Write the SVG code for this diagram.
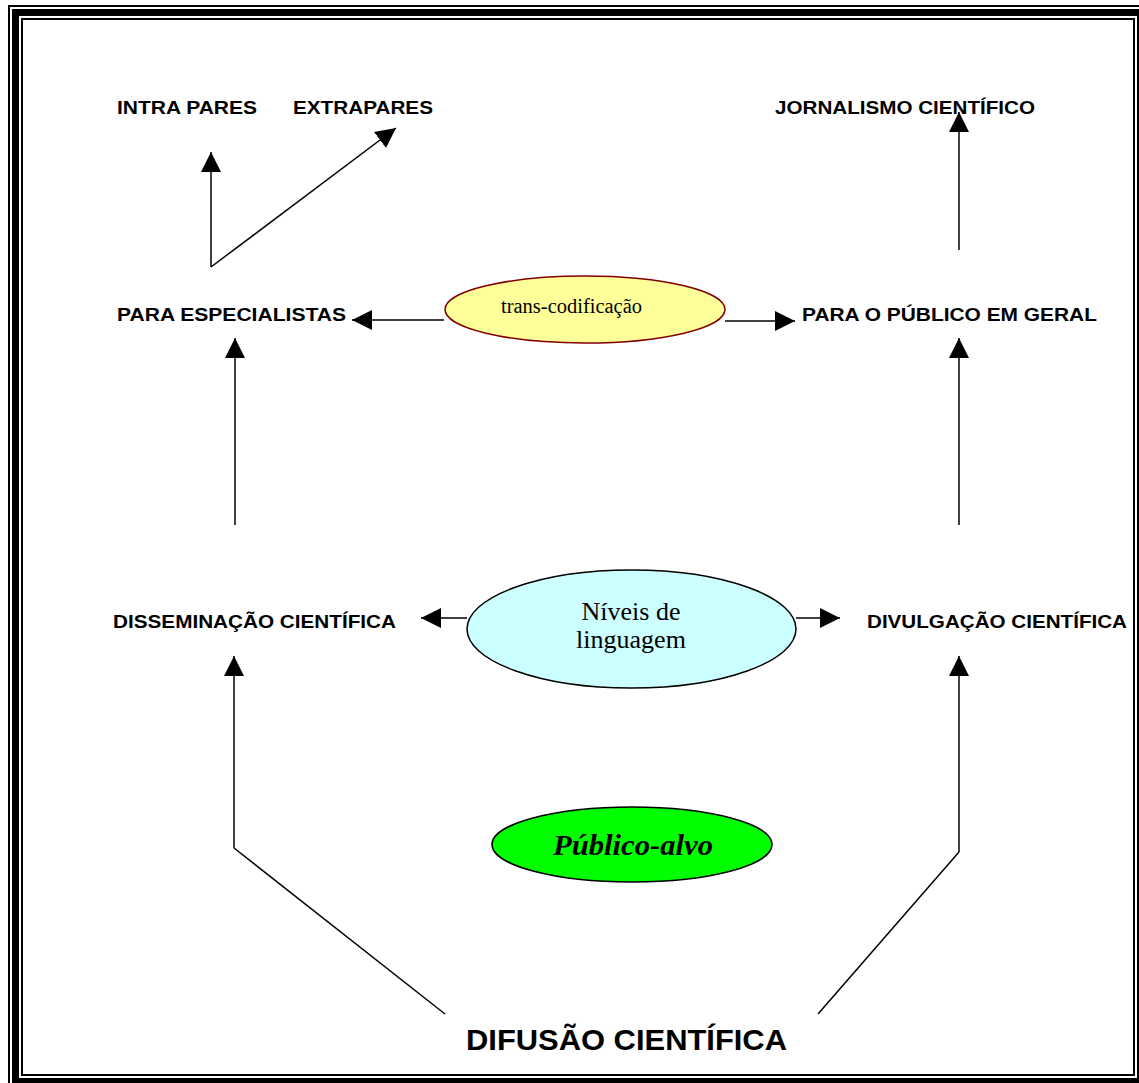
<svg xmlns="http://www.w3.org/2000/svg" width="1139" height="1083" viewBox="0 0 1139 1083">
  <style>
    .lbl { font-family: "Liberation Sans", Arial, sans-serif; font-weight: bold; font-size: 19px; fill: #000; }
    .big { font-family: "Liberation Sans", Arial, sans-serif; font-weight: bold; font-size: 30px; fill: #000; }
    .ser { font-family: "Liberation Serif", "Times New Roman", serif; fill: #000; }
    .conn { stroke: #000; stroke-width: 1.5; fill: none; }
    .arr { marker-end: url(#head); }
  </style>
  <defs>
    <marker id="head" markerUnits="userSpaceOnUse" markerWidth="20" markerHeight="20" refX="20" refY="10" orient="auto">
      <path d="M0,0 L20,10 L0,20 z" fill="#000"/>
    </marker>
  </defs>
  <rect x="0" y="0" width="1139" height="1083" fill="#fff"/>
  <g id="frame" fill="none" stroke="#000">
    <rect x="9" y="6" width="1140" height="1090" stroke-width="2"/>
    <rect x="15.5" y="12.5" width="1125" height="1069" stroke-width="7"/>
    <rect x="22" y="19" width="1112" height="1056" stroke-width="2"/>
  </g>

  <g id="connectors">
    <line class="conn arr" x1="211" y1="267" x2="211" y2="152"/>
    <line class="conn arr" x1="211" y1="267" x2="396" y2="128"/>
    <line class="conn arr" x1="959" y1="250" x2="959" y2="112"/>
    <line class="conn arr" x1="444" y1="320" x2="352" y2="320"/>
    <line class="conn arr" x1="725" y1="321" x2="795" y2="321"/>
    <line class="conn arr" x1="235" y1="525" x2="235" y2="338"/>
    <line class="conn arr" x1="959" y1="525" x2="959" y2="338"/>
    <line class="conn arr" x1="467" y1="618" x2="421" y2="618"/>
    <line class="conn arr" x1="796" y1="618" x2="840" y2="618"/>
    <line class="conn arr" x1="234" y1="848" x2="234" y2="656"/>
    <line class="conn arr" x1="959" y1="852" x2="959" y2="656"/>
    <line class="conn" x1="234" y1="848" x2="445" y2="1014"/>
    <line class="conn" x1="959" y1="852" x2="818" y2="1014"/>
  </g>

  <g id="intra-pares"><text class="lbl" x="117" y="114" textLength="140" lengthAdjust="spacingAndGlyphs">INTRA PARES</text></g>
  <g id="extrapares"><text class="lbl" x="293" y="114" textLength="140" lengthAdjust="spacingAndGlyphs">EXTRAPARES</text></g>
  <g id="jornalismo"><text class="lbl" x="775" y="114" textLength="260" lengthAdjust="spacingAndGlyphs">JORNALISMO CIENTÍFICO</text></g>
  <g id="para-especialistas"><text class="lbl" x="117" y="321" textLength="229" lengthAdjust="spacingAndGlyphs">PARA ESPECIALISTAS</text></g>
  <g id="para-publico"><text class="lbl" x="802" y="321" textLength="295" lengthAdjust="spacingAndGlyphs">PARA O PÚBLICO EM GERAL</text></g>
  <g id="trans-codificacao">
    <ellipse cx="585" cy="309.5" rx="140" ry="33.5" fill="#ffff99" stroke="#800000" stroke-width="1.5"/>
    <text class="ser" x="501" y="313" font-size="20" textLength="141" lengthAdjust="spacingAndGlyphs">trans-codificação</text>
  </g>
  <g id="disseminacao"><text class="lbl" x="113" y="628" textLength="283" lengthAdjust="spacingAndGlyphs">DISSEMINAÇÃO CIENTÍFICA</text></g>
  <g id="divulgacao"><text class="lbl" x="867" y="628" textLength="260" lengthAdjust="spacingAndGlyphs">DIVULGAÇÃO CIENTÍFICA</text></g>
  <g id="niveis">
    <ellipse cx="631.5" cy="629" rx="164.5" ry="59" fill="#ccffff" stroke="#000" stroke-width="1.5"/>
    <text class="ser" font-size="26" text-anchor="middle"><tspan x="631" y="620">Níveis de</tspan><tspan x="631" y="648">linguagem</tspan></text>
  </g>
  <g id="publico-alvo">
    <ellipse cx="632" cy="844.5" rx="140" ry="37.5" fill="#00ff00" stroke="#000" stroke-width="1.5"/>
    <text class="ser" x="553" y="855" font-size="30" font-weight="bold" font-style="italic" textLength="160" lengthAdjust="spacingAndGlyphs">Público-alvo</text>
  </g>
  <g id="difusao"><text class="big" x="466" y="1050" textLength="321" lengthAdjust="spacingAndGlyphs">DIFUSÃO CIENTÍFICA</text></g>
</svg>
